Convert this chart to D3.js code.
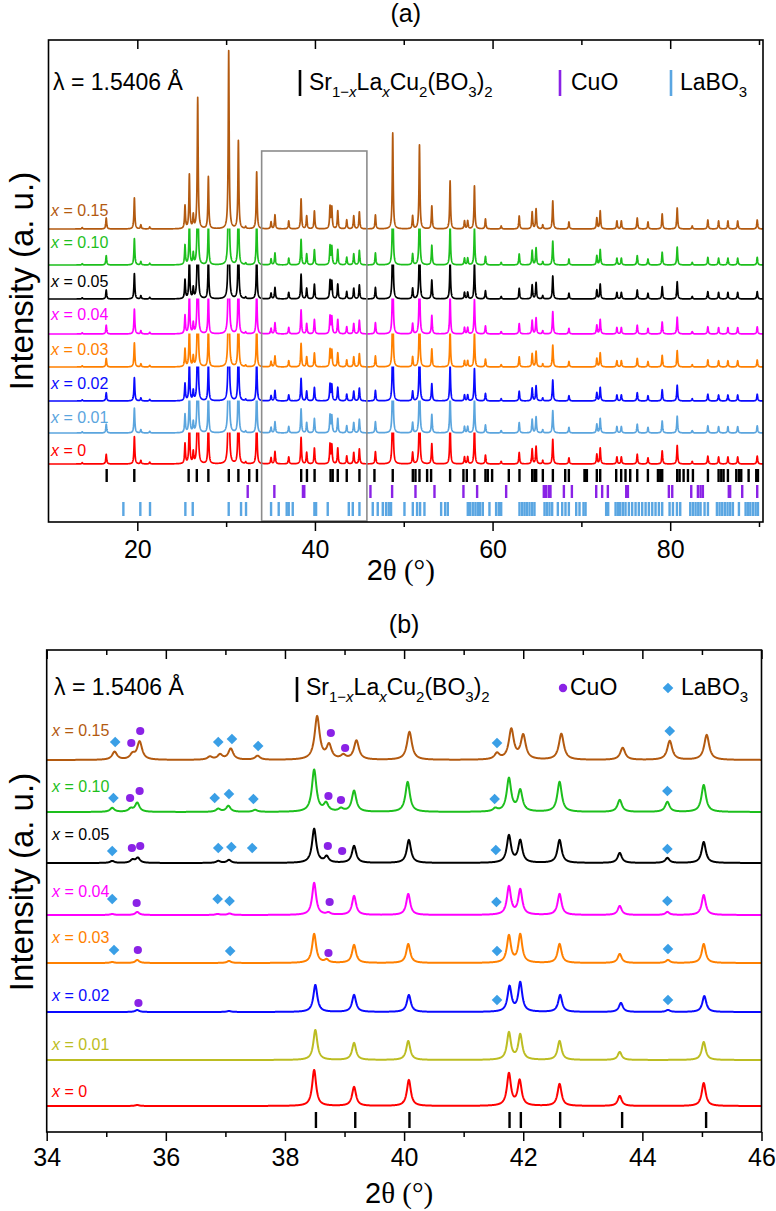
<!DOCTYPE html>
<html lang="en">
<head>
<meta charset="UTF-8"/>
<title>XRD patterns</title>
<script src="https://d3js.org/d3.v7.min.js"></script>
<style>
  body { margin: 0; background: #fff; }
  svg text { font-family: "Liberation Sans", Arial, sans-serif; fill: #000; }
</style>
</head>
<body>
<div id="chart"></div>
<script>
// ---------- data ----------
// samples, top to bottom
var samples = ["0.15", "0.10", "0.05", "0.04", "0.03", "0.02", "0.01", "0"];
var colorsA = ["#b35a10", "#1dbf1d", "#000000", "#ff00ff", "#ff8000", "#0a0aff", "#5ba5de", "#ff0000"];
var colorsB = ["#b35a10", "#1dbf1d", "#000000", "#ff00ff", "#ff8000", "#0a0aff", "#bcbd22", "#ff0000"];

// panel (a): vertical offsets of each pattern and relative scale
var offsetsA = [293, 257, 223, 188, 155, 121, 89, 58];
var scaleA = [1, 0.85, 0.82, 0.8, 0.78, 0.75, 0.8, 0.88];

// panel (a): peaks [2theta, height] read from the x = 0.15 pattern
var peaksA = [
  [13.8, 1.5], [16.5, 11], [19.67, 31], [20.4, 4], [21.4, 2], [25.37, 23], [25.86, 54], [26.3, 13],
  [26.8, 131], [28.0, 52], [30.29, 178], [31.38, 88], [32.2, 2], [33.44, 57], [35.06, 7], [35.5, 14],
  [37.05, 8], [38.44, 30], [39.07, 13], [39.94, 18], [41.7, 22], [41.9, 21], [42.57, 18], [43.58, 9],
  [44.37, 13], [45.0, 17], [46.81, 14], [48.76, 96], [51.0, 13], [51.77, 84], [53.16, 23], [55.22, 48],
  [56.84, 8], [57.2, 8], [57.96, 43], [59.2, 10], [60.97, 3], [63.0, 13], [64.46, 17], [64.9, 20],
  [65.65, 4], [66.78, 28], [68.6, 7], [71.74, 11], [72.12, 18], [74.0, 8], [74.5, 8], [76.29, 11],
  [77.5, 7], [79.1, 15], [80.79, 21], [82.48, 3], [84.24, 9], [85.45, 8], [86.5, 8], [87.6, 8], [89.8, 9]
];

// reference reflections
var refSr = [16.55, 19.66, 25.78, 26.7, 28.0, 30.3, 31.38, 32.6, 33.47, 38.45, 39.1, 39.96, 41.76, 42.0,
  42.57, 43.58, 45.01, 46.7, 48.76, 51.02, 51.32, 51.77, 52.63, 53.08, 55.22, 56.72, 57.1, 57.96, 59.2,
  59.46, 59.95, 61.83, 63.03, 64.46, 64.72, 64.91, 65.66, 66.79, 68.18, 68.59, 70.35, 70.5, 70.62, 71.74,
  72.12, 73.92, 74.48, 74.97, 75.5, 76.29, 77.49, 78.62, 78.88, 79.1, 80.79, 81.06, 81.51, 82.0, 82.56,
  84.25, 85.45, 85.75, 86.01, 86.5, 87.44, 87.74, 88.0, 88.83, 89.69, 89.88];
var refCuO = [32.43, 35.43, 38.65, 38.8, 46.25, 48.69, 51.32, 53.46, 56.72, 58.26, 61.53, 65.77, 66.04,
  66.34, 66.52, 68.03, 68.93, 71.67, 72.34, 72.98, 75.05, 75.24, 79.85, 80.23, 82.37, 83.12, 83.42,
  83.68, 86.6, 86.75, 88.11, 89.8];
var refLaBO3 = [18.43, 20.34, 21.43, 25.41, 26.24, 30.29, 31.68, 32.24, 35.06, 35.92, 36.82, 37.05, 37.5,
  39.94, 40.13, 41.44, 43.81, 44.26, 45.01, 46.51, 47.07, 47.64, 48.01, 48.31, 48.57, 50.08, 51.02, 51.5,
  51.84, 52.33, 54.21, 54.66, 54.96, 57.21, 57.47, 57.77, 58.07, 58.34, 58.6, 58.9, 59.65, 60.4, 60.7,
  60.97, 63.03, 63.33, 63.6, 63.86, 64.16, 64.46, 64.72, 65.85, 66.11, 66.41, 66.71, 67.35, 67.84, 68.21,
  68.59, 69.42, 69.79, 70.24, 70.47, 72.79, 73.02, 73.85, 74.11, 74.37, 74.67, 74.97, 75.35, 75.72, 76.1,
  76.47, 76.85, 77.23, 77.6, 77.98, 78.35, 78.73, 79.1, 79.93, 80.31, 80.76, 81.13, 82.26, 82.56, 82.86,
  83.16, 83.42, 83.87, 84.25, 85.26, 85.56, 85.86, 86.16, 86.46, 86.76, 87.06, 87.74, 88.49, 88.75, 89.02,
  89.32, 89.62, 89.88];

// panel (b): offsets and peaks [2theta, height] for each sample
var offsetsB = [372, 320, 269, 217, 169, 120, 72, 26];
var widthB = [0.1, 0.09, 0.085, 0.08, 0.08, 0.08, 0.08, 0.08];
var peaksB = [
  [[35.14, 8], [35.44, 5], [35.56, 18], [36.74, 3], [36.91, 5], [37.09, 11], [37.54, 4], [38.54, 43],
   [38.74, 14], [38.98, 4], [39.2, 19], [40.09, 28], [41.56, 6], [41.8, 30], [42.0, 24], [42.64, 26],
   [43.67, 12], [44.46, 19], [45.08, 25]],
  [[35.1, 4], [35.41, 3], [35.52, 9], [36.88, 3], [37.05, 6], [37.5, 2], [38.49, 42], [38.69, 8],
   [38.94, 3], [39.16, 21], [40.06, 30], [41.53, 3], [41.76, 33], [41.95, 21], [42.61, 30], [43.62, 12],
   [44.42, 10], [45.03, 27]],
  [[35.1, 2], [35.44, 3], [35.53, 5], [36.88, 2], [37.06, 3], [38.49, 34], [38.7, 6], [39.16, 17],
   [40.08, 23], [41.76, 27], [41.95, 22], [42.61, 23], [43.62, 10], [44.42, 5], [45.03, 21]],
  [[35.1, 1], [35.52, 3], [36.87, 1], [37.07, 1.5], [38.49, 32], [38.73, 2], [39.16, 19], [40.07, 21],
   [41.76, 28], [41.95, 25], [42.61, 21], [43.62, 9], [44.42, 3], [45.03, 20]],
  [[35.1, 1], [35.52, 3], [37.06, 2], [38.49, 29], [38.7, 3], [39.16, 18], [40.07, 19], [41.76, 27],
   [41.95, 28], [42.61, 19], [43.62, 9], [44.43, 3], [45.03, 19]],
  [[35.52, 2], [37.06, 1], [38.51, 27], [39.16, 17], [40.08, 17], [41.77, 25], [41.95, 29], [42.62, 17],
   [43.64, 9], [44.43, 2], [45.04, 16]],
  [[38.51, 30], [39.16, 17], [40.07, 19], [41.76, 27], [41.95, 25], [42.61, 19], [43.62, 8], [45.03, 18]],
  [[35.52, 1], [38.49, 36], [39.16, 19], [40.08, 26], [41.76, 32], [41.94, 25], [42.61, 22], [43.62, 10],
   [45.03, 23]]
];
var refSrB = [38.52, 39.18, 40.09, 41.77, 41.96, 42.62, 43.66, 45.07];

// panel (b): impurity markers [2theta, height above the pattern baseline]
var lamboB = [
  [[35.15, 18], [36.88, 18], [37.11, 21], [37.55, 14], [41.56, 17], [44.46, 29]],
  [[35.12, 14], [36.82, 14], [37.06, 18], [37.47, 13], [41.52, 13], [44.42, 21]],
  [[35.1, 12], [36.88, 15], [37.1, 16], [37.45, 15], [41.54, 13], [44.42, 14]],
  [[35.1, 16], [36.87, 16], [37.07, 14], [41.55, 13], [44.42, 14]],
  [[35.13, 13], [37.08, 12], [41.56, 12], [44.43, 14]],
  [[41.56, 12], [44.43, 12]],
  [], []
];
var cuoB = [
  [[35.42, 17], [35.57, 29], [38.77, 27], [39.01, 12]],
  [[35.4, 14], [35.56, 21], [38.73, 16], [38.94, 12]],
  [[35.43, 15], [35.57, 17], [38.72, 17], [38.96, 12]],
  [[35.51, 12], [38.75, 13]],
  [[35.53, 13], [38.73, 10]],
  [[35.54, 9]],
  [], []
];

// ---------- layout ----------
var W = 776, H = 1211;
var purple = "#8a22e6", lblue = "#5aa6e2", mblue = "#3a9fe6";
var labelLiftA = [13, 17, 12, 14, 12, 12, 10, 8];
var labelLiftB = [24, 20, 23, 18, 20, 11, 10, 9];

var svg = d3.select("#chart").append("svg").attr("width", W).attr("height", H);
var defs = svg.append("defs");

function profile(peaks, fwhm, lo, hi, step) {
  var hw = fwhm / 2;
  var xs = d3.range(lo, hi + step / 2, step).concat(peaks.map(p => p[0])).sort(d3.ascending);
  return xs.map(t => [t, d3.sum(peaks, p => p[1] / (1 + ((t - p[0]) / hw) * ((t - p[0]) / hw)))]);
}

function richText(g, x, y, size, parts) {
  var t = g.append("text").attr("x", x).attr("y", y).style("font-size", size + "px");
  var shift = 0;
  parts.forEach(function(p) {
    var s = t.append("tspan").text(p.t);
    var target = p.sub ? Math.round(size * 0.32) : 0;
    s.attr("dy", target - shift);
    shift = target;
    if (p.sub) s.style("font-size", Math.round(size * 0.66) + "px");
    if (p.it) s.style("font-style", "italic");
  });
  return t;
}

function formulaParts() {
  return [{t: "Sr"}, {t: "1\u2212", sub: 1}, {t: "x", sub: 1, it: 1}, {t: "La"}, {t: "x", sub: 1, it: 1},
    {t: "Cu"}, {t: "2", sub: 1}, {t: "(BO"}, {t: "3", sub: 1}, {t: ")"}, {t: "2", sub: 1}];
}

function frameAndAxes(g, x, y, box, majors, minors, pad, title, titleY, yTitleY) {
  // bottom ticks (outward) and labels
  g.append("g").attr("transform", "translate(0," + box.b + ")")
    .call(d3.axisBottom(x).tickValues(minors).tickSize(5).tickFormat(""))
    .call(a => a.select(".domain").remove());
  g.append("g").attr("transform", "translate(0," + box.b + ")")
    .call(d3.axisBottom(x).tickValues(majors).tickSize(9).tickPadding(pad).tickFormat(d3.format("d")))
    .call(a => a.select(".domain").remove())
    .call(a => a.selectAll("text").style("font-size", "25px").style("font-family", "Liberation Sans, Arial, sans-serif"));
  // top ticks (inward)
  g.append("g").attr("transform", "translate(0," + box.t + ")")
    .call(d3.axisTop(x).tickValues(minors).tickSize(-5).tickFormat(""))
    .call(a => a.select(".domain").remove());
  g.append("g").attr("transform", "translate(0," + box.t + ")")
    .call(d3.axisTop(x).tickValues(majors).tickSize(-9).tickFormat(""))
    .call(a => a.select(".domain").remove());
  g.selectAll(".tick line").attr("stroke", "#000").attr("stroke-width", 1.5);
  g.append("rect").attr("x", box.l).attr("y", box.t)
    .attr("width", box.r - box.l).attr("height", box.b - box.t)
    .attr("fill", "none").attr("stroke", "#000").attr("stroke-width", 1.6);
  // x title
  var xt = g.append("text").attr("x", (box.l + box.r) / 2 - 5).attr("y", titleY)
    .attr("text-anchor", "middle").style("font-size", "29px");
  xt.append("tspan").text("2");
  xt.append("tspan").text("\u03b8 (\u00b0)").style("font-family", "Liberation Serif, Times New Roman, serif");
  // y title
  g.append("text").attr("transform", "translate(33," + yTitleY + ") rotate(-90)")
    .attr("text-anchor", "middle").style("font-size", "33px").text("Intensity (a. u.)");
  // panel title
  g.append("text").attr("x", (box.l + box.r) / 2).attr("y", title.y)
    .attr("text-anchor", "middle").style("font-size", "25px").text(title.t);
}

function sampleLabel(g, x, y, color, s) {
  var t = g.append("text").attr("x", x).attr("y", y).style("font-size", "16px").style("fill", color);
  t.append("tspan").text("x").style("font-style", "italic").style("fill", color);
  t.append("tspan").text(" = " + s).style("fill", color);
}

// ---------- panel (a) ----------
var boxA = {l: 48.5, r: 763, t: 40, b: 522};
var xA = d3.scaleLinear().domain([10, 90.45]).range([boxA.l, boxA.r]);
var yA = d3.scaleLinear().domain([0, 482]).range([boxA.b, boxA.t]);
var gA = svg.append("g");

samples.forEach(function(s, i) {
  var top = i === 0 ? boxA.t : yA(offsetsA[i - 1]) - 0.5;
  defs.append("clipPath").attr("id", "clipA" + i).append("rect")
    .attr("x", boxA.l).attr("y", top).attr("width", boxA.r - boxA.l).attr("height", boxA.b - top);
});

// draw from bottom to top
d3.range(samples.length - 1, -1, -1).forEach(function(i) {
  var pts = profile(peaksA, 0.12, 10, 90.45, 0.015);
  var line = d3.line().x(d => xA(d[0])).y(d => yA(offsetsA[i] + d[1] * scaleA[i]));
  gA.append("path").datum(pts).attr("d", line)
    .attr("fill", "none").attr("stroke", colorsA[i]).attr("stroke-width", 1.7)
    .attr("stroke-linejoin", "round").attr("clip-path", "url(#clipA" + i + ")");
  sampleLabel(gA, 51, yA(offsetsA[i]) - labelLiftA[i], colorsA[i], samples[i]);
});

// reference tick rows
function tickRow(g, x, y, vals, lo, hi, color) {
  g.append("g").selectAll("line").data(vals).join("line")
    .attr("x1", d => x(d)).attr("x2", d => x(d))
    .attr("y1", y(hi)).attr("y2", y(lo))
    .attr("stroke", color).attr("stroke-width", 2.4);
}
tickRow(gA, xA, yA, refSr, 40, 53, "#000");
tickRow(gA, xA, yA, refCuO, 24, 37, purple);
tickRow(gA, xA, yA, refLaBO3, 6, 20, lblue);

// zoom window of panel (b)
gA.append("rect").attr("x", xA(34)).attr("y", yA(371))
  .attr("width", xA(45.85) - xA(34)).attr("height", yA(1) - yA(371))
  .attr("fill", "none").attr("stroke", "#8c8c8c").attr("stroke-width", 1.6);

// legend (a)
gA.append("text").attr("x", 53).attr("y", 90).style("font-size", "23px").text("\u03bb = 1.5406 \u00c5");
gA.append("line").attr("x1", 300).attr("x2", 300).attr("y1", 70).attr("y2", 96).attr("stroke", "#000").attr("stroke-width", 2.6);
richText(gA, 309, 90, 23, formulaParts());
gA.append("line").attr("x1", 560).attr("x2", 560).attr("y1", 70).attr("y2", 96).attr("stroke", purple).attr("stroke-width", 2.6);
gA.append("text").attr("x", 571).attr("y", 90).style("font-size", "23px").text("CuO");
gA.append("line").attr("x1", 671).attr("x2", 671).attr("y1", 70).attr("y2", 96).attr("stroke", lblue).attr("stroke-width", 2.6);
richText(gA, 680, 90, 23, [{t: "LaBO"}, {t: "3", sub: 1}]);

frameAndAxes(gA, xA, yA, boxA, [20, 40, 60, 80], [30, 50, 70, 90], 9,
  {t: "(a)", y: 22}, 580, 281);

// ---------- panel (b) ----------
var boxB = {l: 46.7, r: 761.5, t: 650, b: 1132};
var xB = d3.scaleLinear().domain([34, 46]).range([boxB.l, boxB.r]);
var yB = d3.scaleLinear().domain([0, 482]).range([boxB.b, boxB.t]);
var gB = svg.append("g");
defs.append("clipPath").attr("id", "clipB").append("rect")
  .attr("x", boxB.l).attr("y", boxB.t).attr("width", boxB.r - boxB.l).attr("height", boxB.b - boxB.t);

d3.range(samples.length - 1, -1, -1).forEach(function(i) {
  var pts = profile(peaksB[i], widthB[i], 34, 46, 0.004);
  var line = d3.line().x(d => xB(d[0])).y(d => yB(offsetsB[i] + d[1]));
  gB.append("path").datum(pts).attr("d", line)
    .attr("fill", "none").attr("stroke", colorsB[i]).attr("stroke-width", 2)
    .attr("stroke-linejoin", "round").attr("clip-path", "url(#clipB)");
  sampleLabel(gB, 52, yB(offsetsB[i]) - labelLiftB[i], colorsB[i], samples[i]);

  gB.append("g").selectAll("path").data(lamboB[i]).join("path")
    .attr("d", d3.symbol(d3.symbolDiamond2, 72))
    .attr("transform", d => "translate(" + xB(d[0]) + "," + yB(offsetsB[i] + d[1]) + ")")
    .attr("fill", mblue);
  gB.append("g").selectAll("circle").data(cuoB[i]).join("circle")
    .attr("cx", d => xB(d[0])).attr("cy", d => yB(offsetsB[i] + d[1])).attr("r", 4.1)
    .attr("fill", purple);
});

tickRow(gB, xB, yB, refSrB, 4, 20, "#000");

// legend (b)
gB.append("text").attr("x", 54).attr("y", 695).style("font-size", "23px").text("\u03bb = 1.5406 \u00c5");
gB.append("line").attr("x1", 297).attr("x2", 297).attr("y1", 677).attr("y2", 702).attr("stroke", "#000").attr("stroke-width", 2.6);
richText(gB, 306, 695, 23, formulaParts());
gB.append("circle").attr("cx", 563).attr("cy", 688).attr("r", 4.2).attr("fill", purple);
gB.append("text").attr("x", 570).attr("y", 695).style("font-size", "23px").text("CuO");
gB.append("path").attr("d", d3.symbol(d3.symbolDiamond2, 72)).attr("transform", "translate(668,688)").attr("fill", mblue);
richText(gB, 681, 695, 23, [{t: "LaBO"}, {t: "3", sub: 1}]);

frameAndAxes(gB, xB, yB, boxB, [34, 36, 38, 40, 42, 44, 46], [35, 37, 39, 41, 43, 45], 7,
  {t: "(b)", y: 633}, 1203, 882);
</script>
</body>
</html>
